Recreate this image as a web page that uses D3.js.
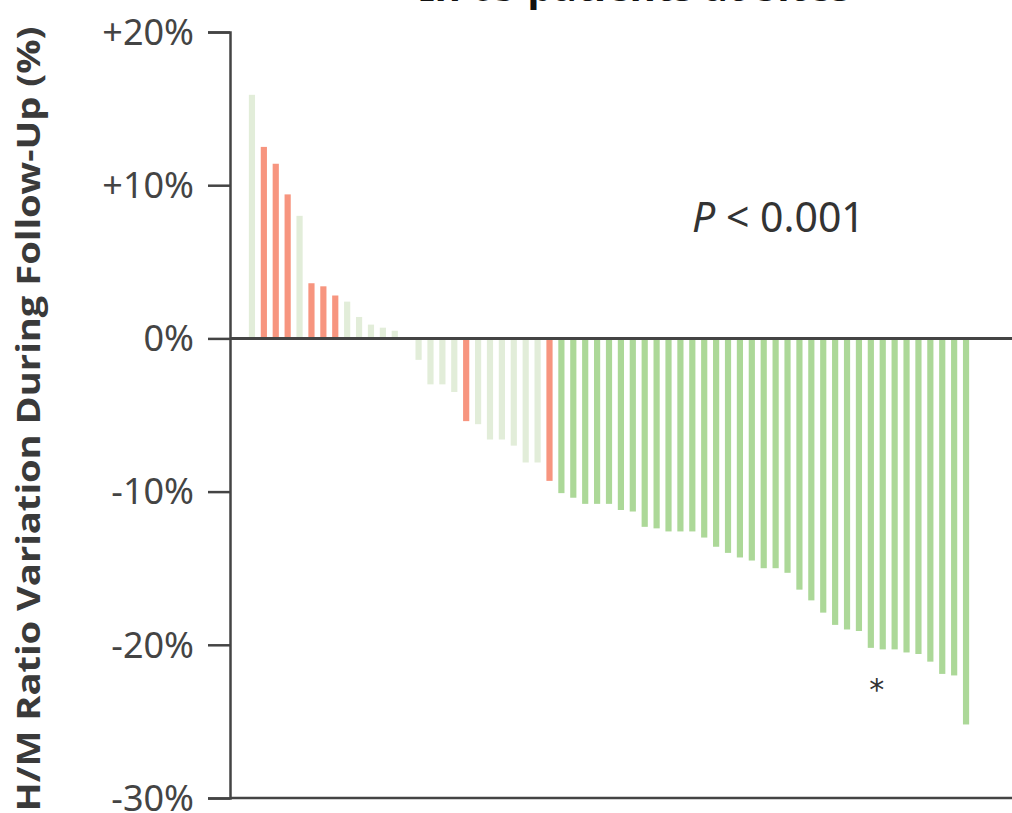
<!DOCTYPE html>
<html>
<head>
<meta charset="utf-8">
<script src="https://cdn.jsdelivr.net/npm/d3@7"></script>
<style>
  body { margin: 0; background: #fff; }
  svg { display: block; }
</style>
</head>
<body>
<div id="chart"></div>
<script>
// one bar per patient, sorted by H/M ratio variation (%)
const values = [
  15.9, 12.5, 11.4, 9.4, 8.0, 3.6, 3.4, 2.8, 2.4, 1.4, 0.9, 0.7, 0.5, 0.0,
  -1.4, -3.0, -3.0, -3.5, -5.4, -5.6, -6.6, -6.6, -7.0, -8.1, -8.1, -9.3,
  -10.1, -10.4, -10.8, -10.8, -10.8, -11.2, -11.3, -12.3, -12.4, -12.6, -12.6, -12.6,
  -13.0, -13.6, -14.0, -14.3, -14.5,
  -15.0, -15.0, -15.3, -16.4, -17.1, -17.9, -18.7, -19.0, -19.1,
  -20.2, -20.3, -20.3, -20.5, -20.6, -21.1, -21.9, -22.0, -25.2
];
// r = red, p = pale, g = green
const groups = [
  'p','r','r','r','p','r','r','r','p','p','p','p','p','p',
  'p','p','p','p','r','p','p','p','p','p','p','r',
  'g','g','g','g','g','g','g','g','g','g','g','g',
  'g','g','g','g','g',
  'g','g','g','g','g','g','g','g','g',
  'g','g','g','g','g','g','g','g','g'
];
const yTicks = [20, 10, 0, -10, -20, -30];
const tickLabels = ['+20%', '+10%', '0%', '-10%', '-20%', '-30%'];
const starIndex = 53;

const width = 1012, height = 813;
const colors = { r: '#f7957f', p: '#e2edd9', g: '#acd898' };

const svg = d3.select('#chart').append('svg')
  .attr('width', width)
  .attr('height', height);

const x = d3.scaleBand()
  .domain(d3.range(values.length))
  .range([246, 972])
  .paddingInner(0.48)
  .paddingOuter(0.24);

const y = d3.scaleLinear()
  .domain([-30, 20])
  .range([798, 32]);

// heading, mostly cut off by the top edge
svg.append('text')
  .attr('x', 635)
  .attr('y', 1)
  .attr('text-anchor', 'middle')
  .style('font-family', 'Noto Sans')
  .style('font-weight', 'bold')
  .style('font-size', '40px')
  .attr('fill', '#111')
  .text('In 65 patients at Sites');

svg.selectAll('rect.bar')
  .data(values)
  .enter()
  .append('rect')
  .attr('class', 'bar')
  .attr('x', (d, i) => x(i))
  .attr('width', x.bandwidth())
  .attr('y', d => y(Math.max(0, d)))
  .attr('height', d => Math.abs(y(d) - y(0)))
  .attr('fill', (d, i) => colors[groups[i]]);

// y axis
const yAxis = d3.axisLeft(y)
  .tickValues(yTicks)
  .tickSize(22)
  .tickPadding(14)
  .tickFormat((d, i) => tickLabels[i]);

const gy = svg.append('g')
  .attr('transform', 'translate(230,0)')
  .call(yAxis);
gy.select('.domain').attr('stroke', '#444').attr('stroke-width', 2.5);
gy.selectAll('.tick line').attr('stroke', '#444').attr('stroke-width', 2.5);
gy.selectAll('.tick text')
  .style('font-family', 'Noto Sans')
  .style('font-size', '36px')
  .attr('fill', '#444')
  .attr('dy', '0.34em');

// zero line and bottom line
[0, -30].forEach(v => {
  svg.append('line')
    .attr('x1', 230).attr('x2', width)
    .attr('y1', y(v)).attr('y2', y(v))
    .attr('stroke', '#444')
    .attr('stroke-width', v === 0 ? 3 : 2.5);
});

// y axis title
svg.append('text')
  .attr('transform', `translate(40,${(y(20) + y(-30)) / 2 + 4}) rotate(-90)`)
  .attr('text-anchor', 'middle')
  .attr('textLength', 785)
  .attr('lengthAdjust', 'spacingAndGlyphs')
  .style('font-family', 'Open Sans')
  .style('font-weight', 'bold')
  .style('font-size', '32px')
  .attr('fill', '#3a3a3a')
  .text('H/M Ratio Variation During Follow-Up (%)');

// p value
const pt = svg.append('text')
  .attr('x', 692)
  .attr('y', 232)
  .style('font-family', 'Noto Sans')
  .style('font-size', '41px')
  .attr('fill', '#333');
pt.append('tspan').style('font-style', 'italic').text('P');
pt.append('tspan').text(' < 0.001');

// asterisk
svg.append('text')
  .attr('x', x(starIndex) - 3)
  .attr('y', 700)
  .attr('text-anchor', 'middle')
  .style('font-family', 'DejaVu Sans')
  .style('font-size', '30px')
  .attr('fill', '#333')
  .text('*');
</script>
</body>
</html>
